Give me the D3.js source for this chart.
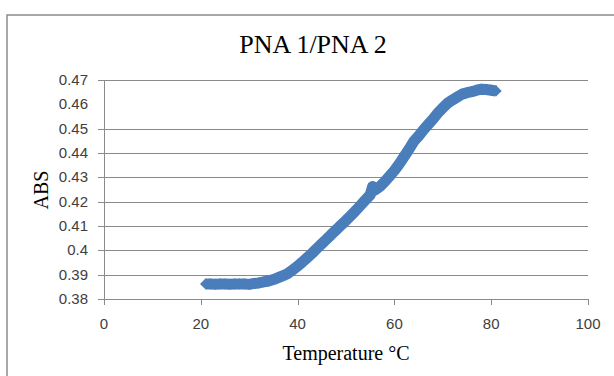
<!DOCTYPE html>
<html lang="en">
<head>
  <meta charset="UTF-8">
  <title>PNA 1/PNA 2</title>
  <script src="https://d3js.org/d3.v7.min.js"></script>
  <style>
    body { margin: 0; background: #fff; }
    .tick-label { font-family: "Liberation Sans", sans-serif; font-size: 15px; fill: #404040; }
    .serif { font-family: "Liberation Serif", "Times New Roman", serif; fill: #000; }
  </style>
</head>
<body>
  <svg width="614" height="376"></svg>

  <script>
    // melting curve
    const temps = [21, 22, 23, 24, 25, 26, 27, 28, 29, 30,
      31, 32, 33, 34, 35, 36, 37, 38, 39, 40,
      41, 42, 43, 44, 45, 46, 47, 48, 49, 50,
      51, 52, 53, 54, 55, 55.5, 56, 57, 58, 59, 60,
      61, 62, 63, 64, 65, 66, 67, 68, 69, 70,
      71, 72, 73, 74, 75, 76, 77, 78, 79, 80, 81];
    const absValues = [0.3862, 0.3862, 0.3861, 0.3862, 0.3862, 0.3861, 0.3862, 0.3862, 0.3862, 0.3860,
      0.3864, 0.3866, 0.3870, 0.3874, 0.3880, 0.3888, 0.3896, 0.3905, 0.3920, 0.3935,
      0.3952, 0.3970, 0.3988, 0.4008, 0.4027, 0.4046, 0.4066, 0.4085, 0.4104, 0.4123,
      0.4143, 0.4163, 0.4185, 0.4207, 0.4228, 0.4262, 0.4248, 0.4262, 0.4282, 0.4305, 0.4328,
      0.4355, 0.4385, 0.4415, 0.4448, 0.4470, 0.4495, 0.4518, 0.4540, 0.4565, 0.4585,
      0.4605, 0.4618, 0.4630, 0.4642, 0.4648, 0.4652, 0.4658, 0.4662, 0.4661, 0.4658, 0.4655];

    const xTicks = [0, 20, 40, 60, 80, 100];
    const yTicks = [0.38, 0.39, 0.40, 0.41, 0.42, 0.43, 0.44, 0.45, 0.46, 0.47];
    const yTickLabels = ["0.38", "0.39", "0.4", "0.41", "0.42", "0.43", "0.44", "0.45", "0.46", "0.47"];
    const noGrid = [0.46]; // that gridline is missing in the source image

    const svg = d3.select("svg");
    const plotL = 104, plotR = 588, plotT = 80, plotB = 299;

    const x = d3.scaleLinear().domain([0, 100]).range([plotL, plotR]);
    const y = d3.scaleLinear().domain([0.38, 0.47]).range([plotB, plotT]);

    // chart area border (runs off the right and bottom edge)
    svg.append("rect")
      .attr("x", 7).attr("y", 15)
      .attr("width", 700).attr("height", 500)
      .attr("fill", "none")
      .attr("stroke", "#8c8c8c")
      .attr("stroke-width", 1.5);

    svg.append("text")
      .attr("class", "serif")
      .attr("x", 313).attr("y", 53)
      .attr("text-anchor", "middle")
      .attr("font-size", 26)
      .text("PNA 1/PNA 2");

    const grid = yTicks.filter(v => !noGrid.includes(v) && v !== 0.38);
    svg.append("g")
      .selectAll("line")
      .data(grid)
      .join("line")
      .attr("x1", plotL).attr("x2", plotR)
      .attr("y1", d => Math.round(y(d)) + 0.5)
      .attr("y2", d => Math.round(y(d)) + 0.5)
      .attr("stroke", "#8a8a8a")
      .attr("stroke-width", 1.2);

    // y axis
    const yAxis = svg.append("g");
    yAxis.append("line")
      .attr("x1", plotL + 0.5).attr("x2", plotL + 0.5)
      .attr("y1", plotT).attr("y2", plotB)
      .attr("stroke", "#8a8a8a");
    yAxis.selectAll(".tk")
      .data(yTicks.filter(v => !noGrid.includes(v)))
      .join("line")
      .attr("x1", plotL - 6).attr("x2", plotL)
      .attr("y1", d => Math.round(y(d)) + 0.5)
      .attr("y2", d => Math.round(y(d)) + 0.5)
      .attr("stroke", "#8a8a8a");
    yAxis.selectAll("text")
      .data(yTicks)
      .join("text")
      .attr("class", "tick-label")
      .attr("x", 88)
      .attr("y", d => y(d) + 5)
      .attr("text-anchor", "end")
      .text((d, i) => yTickLabels[i]);

    // x axis
    const xAxis = svg.append("g");
    xAxis.append("line")
      .attr("x1", plotL).attr("x2", plotR)
      .attr("y1", plotB + 0.5).attr("y2", plotB + 0.5)
      .attr("stroke", "#8a8a8a")
      .attr("stroke-width", 1.2);
    xAxis.selectAll(".tk")
      .data(xTicks)
      .join("line")
      .attr("x1", d => Math.round(x(d)) + 0.5)
      .attr("x2", d => Math.round(x(d)) + 0.5)
      .attr("y1", plotB).attr("y2", plotB + 6)
      .attr("stroke", "#8a8a8a");
    xAxis.selectAll("text")
      .data(xTicks)
      .join("text")
      .attr("class", "tick-label")
      .attr("x", d => x(d))
      .attr("y", 329)
      .attr("text-anchor", "middle")
      .text(d => d);

    svg.append("text")
      .attr("class", "serif")
      .attr("x", 346).attr("y", 360)
      .attr("text-anchor", "middle")
      .attr("font-size", 20)
      .text("Temperature °C");

    svg.append("text")
      .attr("class", "serif")
      .attr("transform", "translate(48,190) rotate(-90)")
      .attr("text-anchor", "middle")
      .attr("font-size", 20)
      .text("ABS");

    // data: dense diamond markers form a thick band
    const pts = temps.map((t, i) => [t, absValues[i]]);
    const blue = "#4a7ebb";

    svg.append("path")
      .datum(pts)
      .attr("d", d3.line().x(d => x(d[0])).y(d => y(d[1])))
      .attr("fill", "none")
      .attr("stroke", blue)
      .attr("stroke-width", 11)
      .attr("stroke-linejoin", "round");

    const diamond = d3.symbol(d3.symbolSquare, 64);
    svg.append("g")
      .selectAll("path")
      .data(pts)
      .join("path")
      .attr("d", diamond)
      .attr("transform", d => `translate(${x(d[0])},${y(d[1])}) rotate(45)`)
      .attr("fill", blue);
  </script>
</body>
</html>
